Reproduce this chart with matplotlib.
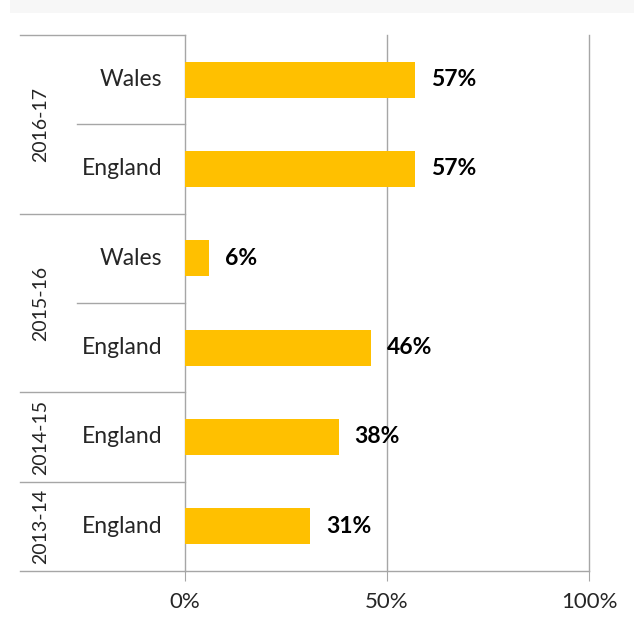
import matplotlib
matplotlib.use("Agg")
import matplotlib.pyplot as plt
from matplotlib.patches import Rectangle

# Data (top to bottom)
years = ["2016-17", "2015-16", "2014-15", "2013-14"]
year_counts = [2, 2, 1, 1]
countries = ["Wales", "England", "Wales", "England", "England", "England"]
values = [57, 57, 6, 46, 38, 31]
x_ticks = [0, 50, 100]
x_tick_labels = ["0%", "50%", "100%"]

BAR = "#FFC000"
LINE = "#A6A6A6"
TEXT = "#262626"
FONT = "Lato"

W, H = 634, 621
fig = plt.figure(figsize=(W / 100, H / 100), dpi=100)
fig.patch.set_facecolor("white")

# light band across the top
fig.patches.append(Rectangle((10 / W, 1 - 13 / H), 1, 13 / H, transform=fig.transFigure,
                             facecolor="#F7F7F7", edgecolor="none"))

x0, x1, ytop, ybot = 185, 589, 35, 571
ax = fig.add_axes([x0 / W, 1 - ybot / H, (x1 - x0) / W, (ybot - ytop) / H])

n = len(values)
ypos = list(range(n))
ax.barh(ypos, values, height=0.4, color=BAR, zorder=3)
ax.set_xlim(0, 100)
ax.set_ylim(n - 0.5, -0.5)

for y, v in zip(ypos, values):
    ax.annotate(f"{v}%", (v, y), xytext=(16, 0), textcoords="offset pixels",
                ha="left", va="center", fontsize=16.5, fontweight="bold",
                family=FONT, color="#000000")

for s in ["top", "right", "left"]:
    ax.spines[s].set_visible(False)
ax.spines["bottom"].set_color(LINE)
ax.spines["bottom"].set_linewidth(1)

ax.set_xticks(x_ticks)
ax.set_xticklabels(x_tick_labels, family=FONT, fontsize=16, color=TEXT)
ax.tick_params(axis="x", length=7, color=LINE, pad=8)
ax.set_yticks([])

# gridlines
for t in x_ticks:
    ax.axvline(t, color=LINE, lw=1, zorder=1, clip_on=False)

# multi-level category axis drawn to the left of the plot
tr = ax.get_yaxis_transform()
def fx(px):
    return (px - x0) / (x1 - x0)

for y, c in zip(ypos, countries):
    ax.text(fx(162), y, c, transform=tr, ha="right", va="center",
            fontsize=16.5, family=FONT, color=TEXT)

start = 0
ax.plot([fx(20), 0], [-0.5, -0.5], transform=tr, color=LINE, lw=1, clip_on=False)
for yr, cnt in zip(years, year_counts):
    end = start + cnt
    ax.plot([fx(20), 0], [end - 0.5, end - 0.5], transform=tr, color=LINE, lw=1, clip_on=False)
    for k in range(start + 1, end):
        ax.plot([fx(77), 0], [k - 0.5, k - 0.5], transform=tr, color=LINE, lw=1, clip_on=False)
    ax.text(fx(41), (start + end - 1) / 2, yr, transform=tr, rotation=90,
            ha="center", va="center", fontsize=14, family=FONT, color=TEXT)
    start = end

fig.savefig("out.png", dpi=100)
